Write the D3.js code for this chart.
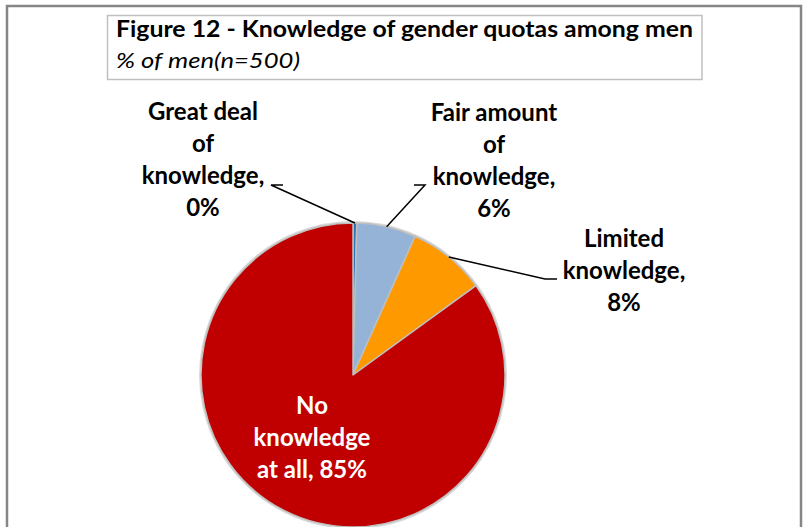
<!DOCTYPE html>
<html>
<head>
<meta charset="utf-8">
<script src="https://cdn.jsdelivr.net/npm/d3@7"></script>
<style>
  html, body { margin: 0; padding: 0; background: #fff; }
  svg { display: block; }
  text { font-family: "Lato", "Open Sans", sans-serif; }
</style>
</head>
<body>
<svg id="chart" width="804" height="527"></svg>
<script>
// ---- data ----
const categories = ["Great deal of knowledge", "Fair amount of knowledge", "Limited knowledge", "No knowledge at all"];
const values = [0.4, 6.3, 8.3, 85.0];
const valueLabels = ["0%", "6%", "8%", "85%"];
const labelLines = [
  ["Great deal", "of", "knowledge,", "0%"],
  ["Fair amount", "of", "knowledge,", "6%"],
  ["Limited", "knowledge,", "8%"],
  ["No", "knowledge", "at all, 85%"]
];
const colors = ["#2E75B6", "#95B3D7", "#FF9900", "#C00000"];
const titleText = "Figure 12 - Knowledge of gender quotas among men";
const subtitleText = "% of men(n=500)";

// ---- layout ----
const W = 804, H = 527;
const cx = 353, cy = 375, R = 152;
const svg = d3.select("#chart");

// outer border
svg.append("rect")
  .attr("x", 7).attr("y", 6).attr("width", 794).attr("height", 540)
  .attr("fill", "#fff").attr("stroke", "#868686").attr("stroke-width", 2.5);

// title box
svg.append("rect")
  .attr("x", 107.5).attr("y", 15.5).attr("width", 594.5).attr("height", 64)
  .attr("fill", "#fff").attr("stroke", "#C0C0C0").attr("stroke-width", 1.5);

svg.append("text")
  .attr("x", 116).attr("y", 37)
  .attr("font-size", 22).attr("font-weight", "bold").attr("fill", "#000")
  .attr("textLength", 577).attr("lengthAdjust", "spacingAndGlyphs")
  .text(titleText);

svg.append("text")
  .attr("x", 116).attr("y", 68)
  .attr("font-size", 21).attr("font-style", "italic").attr("fill", "#000")
  .attr("textLength", 184).attr("lengthAdjust", "spacingAndGlyphs")
  .text(subtitleText);

// pie
const pie = d3.pie().sort(null).value(d => d);
const arcs = pie(values);
const arc = d3.arc().innerRadius(0).outerRadius(R);
const g = svg.append("g").attr("transform", `translate(${cx},${cy})`);

g.append("circle").attr("r", R + 1.2).attr("fill", "none")
  .attr("stroke", "#d9d9d9").attr("stroke-width", 1.5);

g.selectAll("path.slice").data(arcs).join("path")
  .attr("class", "slice")
  .attr("d", arc)
  .attr("fill", (d, i) => colors[i])
  .attr("stroke", "#BFBFBF").attr("stroke-width", 1.5)
  .attr("stroke-linejoin", "round");

// label positions (block centers / first baselines) and leader elbows
const labelPos = [
  { x: 203, y: 120, elbow: [[-82, -190], [-70, -190]] },
  { x: 494, y: 121, elbow: [[72, -190], [61, -190]] },
  { x: 624, y: 247, elbow: [[192, -96], [204, -96]] },
  { x: 312, y: 414, elbow: null }
];
const lineStep = 32;

const lineGen = d3.line();
arcs.forEach((d, i) => {
  const p = labelPos[i];
  if (p.elbow) {
    const mid = (d.startAngle + d.endAngle) / 2;
    const a = [Math.sin(mid) * R, -Math.cos(mid) * R];
    g.append("path")
      .attr("d", lineGen([a, p.elbow[0], p.elbow[1]]))
      .attr("fill", "none").attr("stroke", "#000").attr("stroke-width", 1.5);
  }
  const t = svg.append("text")
    .attr("text-anchor", "middle")
    .attr("font-size", 24).attr("font-weight", "bold")
    .attr("fill", i === 3 ? "#fff" : "#000");
  labelLines[i].forEach((ln, k) => {
    t.append("tspan").attr("x", p.x).attr("y", p.y + k * lineStep).text(ln);
  });
});
</script>
</body>
</html>
